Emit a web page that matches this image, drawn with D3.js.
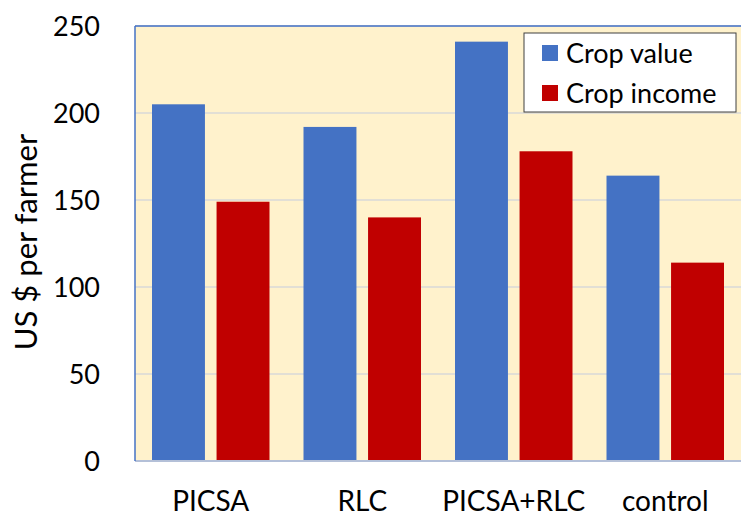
<!DOCTYPE html>
<html>
<head>
<meta charset="utf-8">
<script src="https://cdn.jsdelivr.net/npm/d3@7"></script>
<style>
  html, body { margin: 0; padding: 0; background: #fff; }
  svg { display: block; }
  text { font-family: Lato, "Open Sans", sans-serif; fill: #000; }
</style>
</head>
<body>
<svg id="chart" width="741" height="518"></svg>
<script>
// Farmer crop outcomes by intervention group
const categories = ["PICSA", "RLC", "PICSA+RLC", "control"];
const seriesNames = ["Crop value", "Crop income"];
const cropValue = [205, 192, 241, 164];
const cropIncome = [149, 140, 178, 114];
const yTicks = [0, 50, 100, 150, 200, 250];
const colors = ["#4472C4", "#C00000"];

const svg = d3.select("#chart");
const margin = { left: 135, top: 26, right: 0, bottom: 57 };
const W = 741, H = 518;
const plotW = W - margin.left - margin.right;
const plotH = H - margin.top - margin.bottom;

const x = d3.scaleBand().domain(categories).range([0, plotW]).paddingInner(0).paddingOuter(0);
const x1 = d3.scaleBand().domain(seriesNames).range([17, x.bandwidth() - 17]).paddingInner(0.18);
const y = d3.scaleLinear().domain([0, 250]).range([plotH, 0]);

const g = svg.append("g").attr("transform", `translate(${margin.left},${margin.top})`);

// plot background
g.append("rect").attr("x", 0).attr("y", 0).attr("width", plotW).attr("height", plotH)
  .attr("fill", "#FFF2CC");

// horizontal gridlines
g.append("g").selectAll("line").data(yTicks.filter(d => d > 0)).join("line")
  .attr("x1", 0).attr("x2", plotW)
  .attr("y1", d => y(d)).attr("y2", d => y(d))
  .attr("stroke", "#D9D9D9").attr("stroke-width", 1.5);

// bars
const rows = categories.map((c, i) => ({ cat: c, vals: [cropValue[i], cropIncome[i]] }));
const groups = g.append("g").selectAll("g").data(rows).join("g")
  .attr("transform", d => `translate(${x(d.cat)},0)`);
groups.selectAll("rect").data(d => d.vals.map((v, j) => ({ key: seriesNames[j], v, j }))).join("rect")
  .attr("x", d => x1(d.key))
  .attr("width", x1.bandwidth())
  .attr("y", d => y(d.v))
  .attr("height", d => y(0) - y(d.v))
  .attr("fill", d => colors[d.j]);

// y axis labels
const yAxis = d3.axisLeft(y).tickValues(yTicks).tickSize(0).tickPadding(35);
const ya = g.append("g").call(yAxis);
ya.select(".domain").remove();
ya.selectAll("text").style("font-size", "27px").attr("dy", "0.36em")
  .style("font-family", "Lato, 'Open Sans', sans-serif");

// x axis labels
const xAxis = d3.axisBottom(x).tickSize(0).tickPadding(0);
const xa = g.append("g").attr("transform", `translate(0,${plotH})`).call(xAxis);
xa.select(".domain").remove();
xa.selectAll("text").style("font-size", "28px")
  .attr("y", 50).attr("dy", null)
  .style("font-family", "Lato, 'Open Sans', sans-serif");

// frame: baseline and blue plot border
g.append("line").attr("x1", 0).attr("x2", plotW).attr("y1", plotH).attr("y2", plotH)
  .attr("stroke", "#B4C0D8").attr("stroke-width", 2);
g.append("line").attr("x1", 0).attr("x2", 0).attr("y1", 0).attr("y2", plotH)
  .attr("stroke", "#4472C4").attr("stroke-width", 1.5);
g.append("line").attr("x1", 0).attr("x2", plotW).attr("y1", 0).attr("y2", 0)
  .attr("stroke", "#4472C4").attr("stroke-width", 1.5);

// y axis title
svg.append("text")
  .attr("transform", `translate(37,242) rotate(-90)`)
  .attr("text-anchor", "middle")
  .style("font-size", "31px")
  .text("US $ per farmer");

// legend
const lg = svg.append("g").attr("transform", "translate(524,33)");
lg.append("rect").attr("width", 212).attr("height", 79)
  .attr("fill", "#fff").attr("stroke", "#404040").attr("stroke-width", 1);
const items = lg.selectAll("g").data(seriesNames).join("g")
  .attr("transform", (d, i) => `translate(0,${20 + i * 40})`);
items.append("rect").attr("x", 18).attr("y", -8).attr("width", 16).attr("height", 16)
  .attr("fill", (d, i) => colors[i]);
items.append("text").attr("x", 42).attr("dy", "0.36em")
  .style("font-size", "27px").text(d => d);
</script>
</body>
</html>
